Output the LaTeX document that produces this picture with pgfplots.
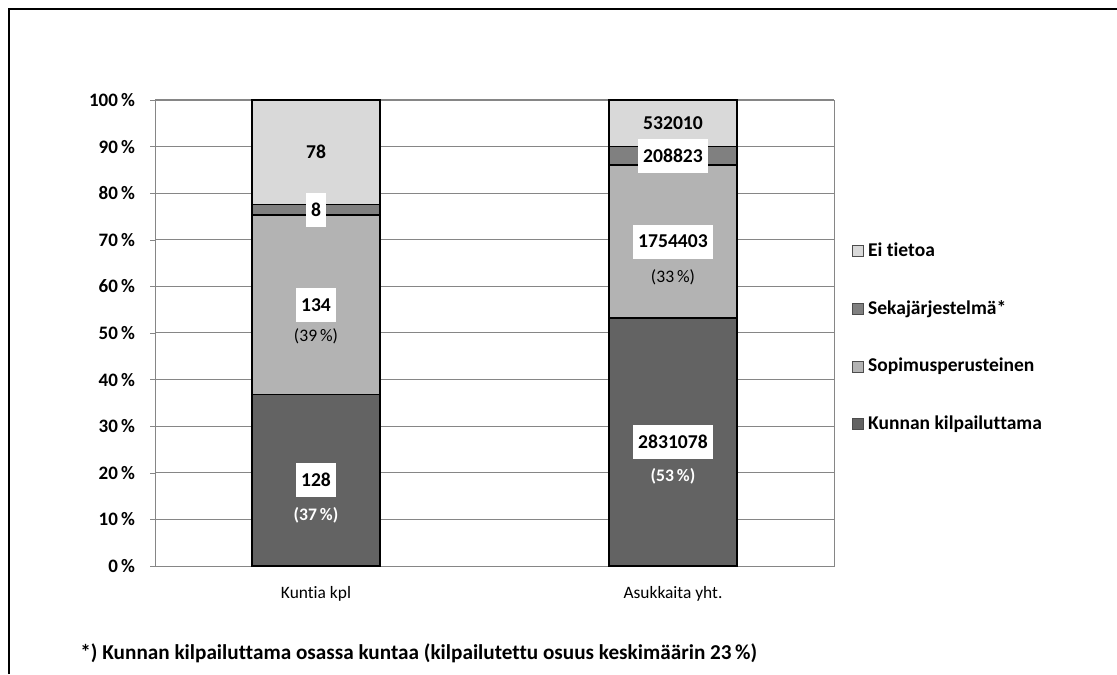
\documentclass[border=0pt]{standalone}
\usepackage{fontspec}
\setmainfont{Carlito}[Ligatures=NoCommon]
\usepackage{pgfplots}
\pgfplotsset{compat=1.18}

\definecolor{kunta}{HTML}{636363}
\definecolor{sopimus}{HTML}{B3B3B3}
\definecolor{seka}{HTML}{808080}
\definecolor{eitieto}{HTML}{D9D9D9}
\definecolor{axgray}{HTML}{868686}

% shares in per cent, computed from the counts
% Kuntia kpl: 128, 134, 8, 78 (348)
% Asukkaita yht.: 2831078, 1754403, 208823, 532010 (5326314)

\pgfplotsset{
  common/.style={
    at={(77.5pt,54pt)}, anchor=south west,
    scale only axis, width=339.5pt, height=233pt,
    xmin=-0.451, xmax=1.451, ymin=0, ymax=100,
  },
  countlab/.style={
    only marks, mark=none, nodes near coords, point meta=explicit symbolic,
    every node near coord/.append style={anchor=center, font=\fontsize{9.8}{11}\selectfont\bfseries,
      text=black, inner xsep=2.5pt, inner ysep=0pt, minimum height=17pt},
  },
  pctlab/.style={
    only marks, mark=none, nodes near coords, point meta=explicit symbolic,
    every node near coord/.append style={anchor=center, font=\fontsize{8.8}{10}\selectfont, inner sep=0pt},
  },
}

\begin{document}
\begin{tikzpicture}
\useasboundingbox (0,0) rectangle (558.5pt,337pt);
\draw[line width=1pt] (4.5pt,0) -- (4.5pt,332.5pt) -- (558.5pt,332.5pt);

\begin{axis}[
  common,
  ybar stacked, bar width=64pt,
  axis line style={draw=axgray},
  ymajorgrids, grid style={draw=axgray, line width=0.5pt},
  ytick={0,10,...,100}, ytick pos=left,
  yticklabel={\pgfmathprintnumber[assume math mode=true]{\tick}\,\%},
  yticklabel style={font=\fontsize{9.5}{11}\selectfont\bfseries, xshift=-4pt},
  tick align=outside, major tick length=2.5pt,
  ytick style={draw=axgray},
  xtick={0,1}, xticklabels={Kuntia kpl, Asukkaita yht.},
  xtick style={draw=none},
  xticklabel style={font=\fontsize{8.7}{10}\selectfont, yshift=-4pt},
  legend style={at={(1,0.49)}, anchor=west, xshift=9pt, draw=none, fill=none,
    font=\fontsize{9.75}{11}\selectfont\bfseries, row sep=16.5pt,
    cells={anchor=west}, inner sep=0pt},
  legend image code/.code={\draw[#1, draw=black!70, line width=0.4pt] (0pt,-2.75pt) rectangle (5.5pt,2.75pt);},
  reverse legend,
]
\addplot[fill=kunta, draw=black, line width=0.9pt] coordinates {(0,36.782) (1,53.153)};
\addplot[fill=sopimus, draw=black, line width=0.9pt] coordinates {(0,38.506) (1,32.938)};
\addplot[fill=seka, draw=black, line width=0.9pt] coordinates {(0,2.299) (1,3.921)};
\addplot[fill=eitieto, draw=black, line width=0.9pt] coordinates {(0,22.414) (1,9.988)};
\legend{Kunnan kilpailuttama, Sopimusperusteinen, Sekajärjestelmä*, Ei tietoa}
\end{axis}

\begin{axis}[common, hide axis]
% boxed counts
\addplot[countlab, every node near coord/.append style={fill=white}] coordinates {
  (0,18.39) [128] (0,56.04) [134] (0,76.44) [8]
  (1,26.58) [2831078] (1,69.62) [1754403] (1,88.05) [208823]
};
% counts without box
\addplot[countlab] coordinates {(0,88.80) [78] (1,95.00) [532010]};
% shares
\addplot[pctlab] coordinates {(0,49.2) [(39\,\%)] (1,62.0) [(33\,\%)]};
\addplot[pctlab, every node near coord/.append style={text=white, font=\fontsize{8.8}{10}\selectfont\bfseries}]
  coordinates {(0,10.9) [(37\,\%)] (1,19.3) [(53\,\%)]};
\end{axis}

\node[anchor=west, font=\fontsize{10.6}{12}\selectfont\bfseries, inner sep=0pt] at (40pt,10.5pt)
  {*) Kunnan kilpailuttama osassa kuntaa (kilpailutettu osuus keskimäärin 23\,\%)};
\end{tikzpicture}
\end{document}
